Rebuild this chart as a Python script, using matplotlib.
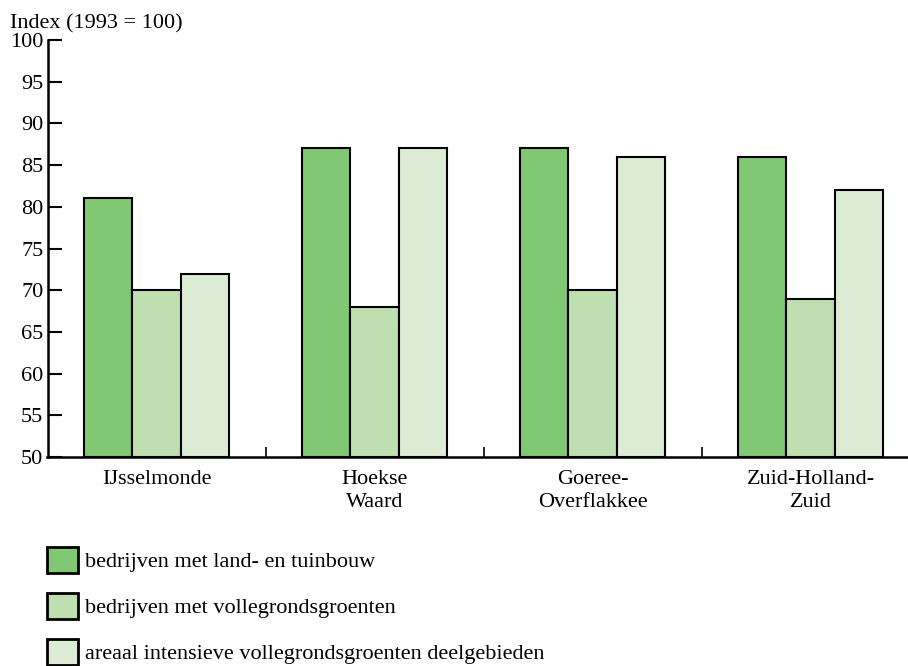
import numpy as np
import matplotlib
matplotlib.use('Agg')
import matplotlib.pyplot as plt

# Index values (1993 = 100) per region
REGIONS = ['IJsselmonde', 'Hoekse\nWaard', 'Goeree-\nOverflakkee', 'Zuid-Holland-\nZuid']
SERIES = ['bedrijven met land- en tuinbouw',
          'bedrijven met vollegrondsgroenten',
          'areaal intensieve vollegrondsgroenten deelgebieden']
land_tuinbouw = [81, 87, 87, 86]
vollegrond = [70, 68, 70, 69]
areaal = [72, 87, 86, 82]
Y_TICKS = [50, 55, 60, 65, 70, 75, 80, 85, 90, 95, 100]

COLORS = ['#80c873', '#bedfb0', '#dcecd4']

plt.rcParams['font.family'] = 'serif'
plt.rcParams['font.serif'] = ['Liberation Serif', 'DejaVu Serif']
plt.rcParams['font.size'] = 16

W, H = 908, 666
fig = plt.figure(figsize=(W / 100, H / 100), dpi=100)
# axis runs past the right edge of the picture, as in the source
ax = fig.add_axes([47.5 / W, (H - 457) / H, 872 / W, 417 / H])

x = np.arange(len(REGIONS))
width = 0.2225
handles = []
for i, (vals, col) in enumerate(zip([land_tuinbouw, vollegrond, areaal], COLORS)):
    b = ax.bar(x + (i - 1) * width, np.array(vals) - 50, width, bottom=50,
               color=col, edgecolor='black', linewidth=1.5, label=SERIES[i])
    handles.append(b)

ax.set_xlim(-0.5, len(REGIONS) - 0.5)
ax.set_ylim(50, 100)
ax.set_yticks(Y_TICKS)
ax.set_xticks(x)
ax.set_xticklabels(REGIONS, linespacing=1.3)
ax.set_xticks(x[:-1] + 0.5, minor=True)

ax.tick_params(axis='y', direction='in', length=10, width=1.5, pad=3)
ax.tick_params(axis='x', which='major', length=0, pad=9)
ax.tick_params(axis='x', which='minor', direction='in', length=7, width=1.2)

for s in ['top', 'right']:
    ax.spines[s].set_visible(False)
for s in ['left', 'bottom']:
    ax.spines[s].set_linewidth(1.8)

fig.text(10 / W, 1 - 24 / H, 'Index (1993 = 100)', ha='left', va='center')

leg = fig.legend(handles=handles, labels=SERIES, loc='upper left',
                 bbox_to_anchor=(38 / W, 1 - 538 / H), frameon=False,
                 handlelength=1.4, handleheight=1.4, handletextpad=0.3,
                 labelspacing=0.92, borderaxespad=0)
for p in leg.get_patches():
    p.set_linewidth(2)

fig.savefig('out.png', dpi=100)
